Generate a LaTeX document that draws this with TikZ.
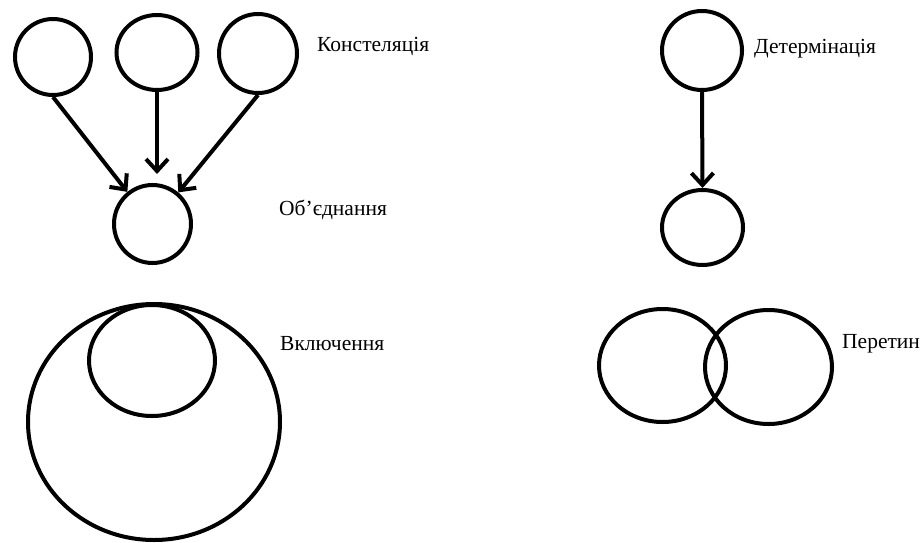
\documentclass[tikz,border=0pt]{standalone}
\usepackage{fontspec}
\setmainfont{Liberation Serif}
\usetikzlibrary{shapes.geometric,arrows.meta}
\begin{document}
\begin{tikzpicture}[x=1pt,y=-1pt,
  ring/.style={draw=black,line width=4pt,ellipse,inner sep=0pt},
  link/.style={line width=4pt,-{Straight Barb[length=12pt,width=22pt,line width=4pt]}},
  caption/.style={anchor=base west,inner sep=0pt,font=\fontsize{21.5}{26}\selectfont}]
\useasboundingbox (0,0) rectangle (923,543);

% constellation and union
\node[ring,minimum width=76,minimum height=76] (c1) at (53,57) {};
\node[ring,minimum width=81,minimum height=75] (c2) at (157,52.5) {};
\node[ring,minimum width=78,minimum height=79] (c3) at (258,53.5) {};
\node[ring,minimum width=77,minimum height=78] (u) at (152.5,224) {};
\draw[link] (c1.south) -- (u);
\draw[link,shorten >=9pt] (c2.south) -- (c2.south |- u.north);
\draw[link] (c3.south) -- (u);
\node[caption] (t1) at (317,52) {Констеляція};
\node[caption] (t2) at (279,215) {Об’єднання};

% inclusion
\node[ring,minimum width=252,minimum height=236] (big) at (154,422) {};
\node[ring,minimum width=126,minimum height=111] (small) at (152,360.5) {};
\node[caption] (t3) at (280,350) {Включення};

% determination
\node[ring,minimum width=80,minimum height=79] (d1) at (702,50.5) {};
\node[ring,minimum width=81,minimum height=75] (d2) at (702.5,227.5) {};
\draw[link] (d1.south) -- (d2.north);
\node[caption] (t4) at (754,53) {Детермінація};

% intersection
\node[ring,minimum width=127,minimum height=113] (e1) at (662.5,365.5) {};
\node[ring,minimum width=127,minimum height=114] (e2) at (768.5,367) {};
\node[caption] (t5) at (842,348.5) {Перетин};
\end{tikzpicture}
\end{document}
